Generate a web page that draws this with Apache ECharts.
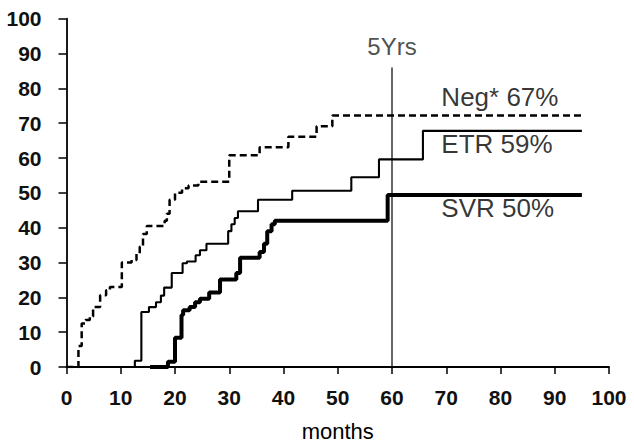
<!DOCTYPE html>
<html>
<head>
<meta charset="utf-8">
<script src="https://cdn.jsdelivr.net/npm/echarts@6/dist/echarts.min.js"></script>
<style>
html,body{margin:0;padding:0;background:#fff;}
#chart{width:634px;height:447px;}
</style>
</head>
<body>
<div id="chart"></div>
<script>
// Tick values
var xTicks = [0, 10, 20, 30, 40, 50, 60, 70, 80, 90, 100];
var yTicks = [0, 10, 20, 30, 40, 50, 60, 70, 80, 90, 100];

// Neg* (dashed) step curve: months, percent
var negMonths = [0, 2.2, 2.8, 3.5, 4.3, 4.9, 6.2, 7.3, 8.0, 10.2, 12.0, 12.9, 13.5, 14.1, 14.8, 18.1, 18.5, 19.0, 20.0, 21.3, 22.5, 24.3, 30.0, 35.6, 40.9, 46.1, 49.0, 95];
var negPct    = [0, 6, 12.5, 13.5, 14.5, 17.2, 20.6, 22, 23, 30, 30.7, 32.6, 34.5, 38.2, 40.5, 42, 44, 48, 50, 51.3, 52.1, 53.2, 60.8, 63.1, 66.1, 69.1, 72.2, 72.2];

// ETR (thin) step curve
var etrMonths = [0, 12.6, 13.8, 15.2, 16.5, 17.4, 18.0, 19.4, 21.4, 22.2, 23.8, 24.6, 25.8, 29.8, 30.4, 31.0, 31.6, 35.3, 41.6, 52.5, 57.6, 65.7, 95];
var etrPct    = [0, 1.8, 15.8, 17.2, 18.6, 20.5, 22.8, 27, 29.8, 30.3, 32.1, 33.5, 35.4, 39, 41, 42.8, 44.7, 48, 50.6, 54.5, 59.6, 67.8, 67.8];

// SVR (thick) step curve
var svrMonths = [15.4, 18.7, 20.0, 21.2, 21.5, 22.7, 23.7, 24.6, 26.3, 28.3, 31.3, 32.0, 35.6, 36.4, 37.0, 37.8, 38.4, 59.2, 95];
var svrPct    = [0, 1.5, 8.4, 14.9, 16.3, 17.2, 18.6, 19.6, 21.4, 25.1, 27, 31.4, 33, 35.4, 39, 41, 42, 49.4, 49.4];

// 5-year marker
var markerMonth = 60;
var markerRange = [0, 86];

// Annotation texts
var labels = ['Neg* 67%', 'ETR 59%', 'SVR 50%', '5Yrs'];
var axisTitle = 'months';

function pairs(xs, ys) { return xs.map(function (x, i) { return [x, ys[i]]; }); }

var chart = echarts.init(document.getElementById('chart'), null, {renderer: 'svg'});
var font = '"Liberation Sans", Arial, sans-serif';

chart.setOption({
  animation: false,
  backgroundColor: '#fff',
  grid: {left: 66.5, right: 25, top: 18.7, bottom: 70.3, containLabel: false},
  xAxis: {
    type: 'value', min: xTicks[0], max: xTicks[xTicks.length - 1], interval: 10,
    name: axisTitle, nameLocation: 'middle', nameGap: 53,
    nameTextStyle: {fontFamily: font, fontSize: 22, color: '#000'},
    axisLine: {onZero: false, lineStyle: {color: '#000', width: 1.8}},
    axisTick: {inside: false, length: 7, lineStyle: {color: '#000', width: 1.5}},
    axisLabel: {margin: 20, fontFamily: font, fontSize: 21, fontWeight: 'bold', color: '#111'},
    splitLine: {show: false}
  },
  yAxis: {
    type: 'value', min: yTicks[0], max: yTicks[yTicks.length - 1], interval: 10,
    axisLine: {show: true, onZero: false, lineStyle: {color: '#000', width: 1.8}},
    axisTick: {show: true, inside: false, length: 8, lineStyle: {color: '#000', width: 1.5}},
    axisLabel: {margin: 25, fontFamily: font, fontSize: 21, fontWeight: 'bold', color: '#111'},
    splitLine: {show: false}
  },
  series: [
    {type: 'line', step: 'end', symbol: 'none', data: pairs(negMonths, negPct),
     lineStyle: {color: '#000', width: 2.5, type: [7, 4]}},
    {type: 'line', step: 'end', symbol: 'none', data: pairs(etrMonths, etrPct),
     lineStyle: {color: '#000', width: 2.1}},
    {type: 'line', step: 'end', symbol: 'none', data: pairs(svrMonths, svrPct),
     lineStyle: {color: '#000', width: 4}},
    {type: 'line', symbol: 'none', data: [[markerMonth, markerRange[0]], [markerMonth, markerRange[1]]],
     lineStyle: {color: '#000', width: 1.2}},
    {type: 'scatter', symbolSize: 0, silent: true,
     data: [
       {value: [69.1, 77.6], name: labels[0]},
       {value: [69.1, 63.9], name: labels[1]},
       {value: [69.1, 45.6], name: labels[2]}
     ],
     label: {show: true, position: 'right', distance: 0, formatter: '{b}', align: 'left', verticalAlign: 'middle',
             fontFamily: font, fontSize: 26, color: '#000'}},
    {type: 'scatter', symbolSize: 0, silent: true,
     data: [{value: [markerMonth, 92.1], name: labels[3]}],
     label: {show: true, position: 'inside', formatter: '{b}', align: 'center', verticalAlign: 'middle',
             fontFamily: font, fontSize: 24, color: '#222'}}
  ]
});
</script>
</body>
</html>
